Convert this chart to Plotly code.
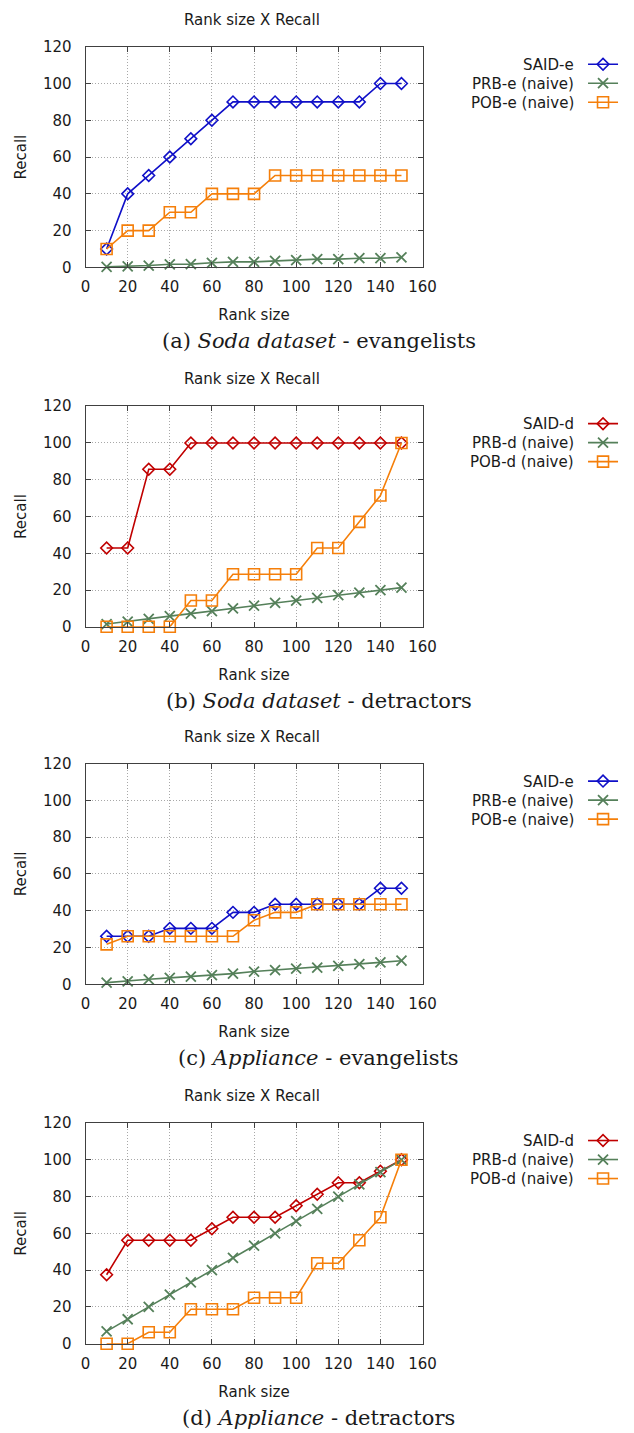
import plotly.graph_objects as go

W, H = 634, 1433
# empirical mapping between reference pixel positions and page positions
SX, BX = 0.973, 3.2
SY, BY = 0.989, 7.2

rank = [10, 20, 30, 40, 50, 60, 70, 80, 90, 100, 110, 120, 130, 140, 150]

# (a) Soda dataset - evangelists
a_said = [10, 40, 50, 60, 70, 80, 90, 90, 90, 90, 90, 90, 90, 100, 100]
a_prb = [0.3, 0.5, 1.0, 1.7, 1.8, 2.5, 3.0, 3.0, 3.5, 4.0, 4.5, 4.5, 5.0, 5.0, 5.5]
a_pob = [10, 20, 20, 30, 30, 40, 40, 40, 50, 50, 50, 50, 50, 50, 50]

# (b) Soda dataset - detractors
b_said = [42.9, 42.9, 85.7, 85.7, 100, 100, 100, 100, 100, 100, 100, 100, 100, 100, 100]
b_prb = [1.5, 2.8, 4.3, 5.8, 7.2, 8.5, 10.0, 11.5, 13.0, 14.2, 15.7, 17.2, 18.6, 20.0, 21.3]
b_pob = [0, 0, 0, 0, 14.3, 14.3, 28.6, 28.6, 28.6, 28.6, 42.9, 42.9, 57.1, 71.4, 100]

# (c) Appliance - evangelists
c_said = [26.1, 26.1, 26.1, 30.4, 30.4, 30.4, 39.1, 39.1, 43.5, 43.5, 43.5, 43.5, 43.5, 52.2, 52.2]
c_prb = [0.9, 1.6, 2.7, 3.5, 4.2, 5.0, 5.8, 6.9, 7.7, 8.5, 9.1, 10.0, 11.0, 11.9, 12.8]
c_pob = [21.7, 26.1, 26.1, 26.1, 26.1, 26.1, 26.1, 34.8, 39.1, 39.1, 43.5, 43.5, 43.5, 43.5, 43.5]

# (d) Appliance - detractors
d_said = [37.5, 56.25, 56.25, 56.25, 56.25, 62.5, 68.75, 68.75, 68.75, 75.0, 81.25, 87.5, 87.5, 93.75, 100]
d_prb = [6.7, 13.3, 20.0, 26.7, 33.3, 40.0, 46.7, 53.3, 60.0, 66.7, 73.3, 80.0, 86.7, 93.3, 100]
d_pob = [0, 0, 6.25, 6.25, 18.75, 18.75, 18.75, 25.0, 25.0, 25.0, 43.75, 43.75, 56.25, 68.75, 100]

x_ticks = [0, 20, 40, 60, 80, 100, 120, 140, 160]
y_ticks = [0, 20, 40, 60, 80, 100, 120]

panels = [
    ("e", a_said, a_prb, a_pob, "(a) <i>Soda dataset</i> - evangelists"),
    ("d", b_said, b_prb, b_pob, "(b) <i>Soda dataset</i> - detractors"),
    ("e", c_said, c_prb, c_pob, "(c) <i>Appliance</i> - evangelists"),
    ("d", d_said, d_prb, d_pob, "(d) <i>Appliance</i> - detractors"),
]

BLUE = "#1010c8"
RED = "#c00000"
GREEN = "#55805a"
ORANGE = "#f57f0a"

tops = [45, 405, 763, 1123]
plot_h = 221
x_left, x_right = 84, 422
LEG_ROW = 19  # legend row height (px) for the small legend font


def px_x(p):
    return ((p - BX) / SX) / W


def px_y(p):
    return 1 - ((p - BY) / SY) / H


fig = go.Figure()
annotations = []
layout = {}
SANS = "DejaVu Sans"
TXT = "#1a1a1a"

for i, (kind, said, prb, pob, caption) in enumerate(panels):
    n = i + 1
    xa = "x" if n == 1 else f"x{n}"
    ya = "y" if n == 1 else f"y{n}"
    leg = "legend" if n == 1 else f"legend{n}"
    said_color = BLUE if kind == "e" else RED
    names = [f"SAID-{kind}", f"PRB-{kind} (naive)", f"POB-{kind} (naive)"]
    fig.add_trace(go.Scatter(
        x=rank, y=said, name=" ", hovertext=names[0], xaxis=xa, yaxis=ya, legend=leg,
        mode="lines+markers", cliponaxis=False,
        line=dict(color=said_color, width=1.6),
        marker=dict(symbol="diamond-open", size=9, color=said_color, line=dict(width=1.6))))
    fig.add_trace(go.Scatter(
        x=rank, y=prb, name=" ", hovertext=names[1], xaxis=xa, yaxis=ya, legend=leg,
        mode="lines+markers", cliponaxis=False,
        line=dict(color=GREEN, width=1.6),
        marker=dict(symbol="x-thin-open", size=10, color=GREEN, line=dict(width=1.8, color=GREEN))))
    fig.add_trace(go.Scatter(
        x=rank, y=pob, name=" ", hovertext=names[2], xaxis=xa, yaxis=ya, legend=leg,
        mode="lines+markers", cliponaxis=False,
        line=dict(color=ORANGE, width=1.6),
        marker=dict(symbol="square-open", size=11, color=ORANGE, line=dict(width=1.6))))

    top = tops[i]
    bot = top + plot_h
    axis_common = dict(
        showline=True, linecolor="#404040", linewidth=1, mirror="ticks",
        ticks="inside", ticklen=5, tickcolor="#404040",
        showgrid=True, gridcolor="#a8a8a8", griddash="1px,2px", gridwidth=1,
        zeroline=False, tickfont=dict(family=SANS, size=15, color=TXT),
    )
    layout["xaxis" if n == 1 else f"xaxis{n}"] = dict(
        axis_common, domain=[px_x(x_left), px_x(x_right)], anchor=ya,
        range=[0, 160], tickvals=x_ticks, ticktext=[str(v) for v in x_ticks],
        ticklabelstandoff=6,
        title=dict(text="Rank size", font=dict(family=SANS, size=15, color=TXT), standoff=14),
    )
    layout["yaxis" if n == 1 else f"yaxis{n}"] = dict(
        axis_common, domain=[px_y(bot), px_y(top)], anchor=xa,
        range=[0, 120], tickvals=y_ticks, ticktext=[str(v) for v in y_ticks],
        ticklabelstandoff=10,
        title=dict(text="Recall", font=dict(family=SANS, size=15, color=TXT), standoff=12),
    )
    layout[leg] = dict(
        x=px_x(583), y=px_y(top + 3), xanchor="left", yanchor="top",
        bgcolor="rgba(0,0,0,0)", font=dict(family=SANS, size=10, color=TXT),
        itemwidth=30, tracegroupgap=0,
    )
    for k, nm in enumerate(names):
        annotations.append(dict(
            text=nm, x=px_x(576), y=px_y(top + 18 + k * LEG_ROW), xref="paper", yref="paper",
            showarrow=False, xanchor="right", yanchor="middle",
            font=dict(family=SANS, size=15, color=TXT)))
    annotations.append(dict(
        text="Rank size X Recall", x=px_x(251), y=px_y(top - 27), xref="paper", yref="paper",
        showarrow=False, xanchor="center", yanchor="middle",
        font=dict(family=SANS, size=15, color=TXT)))
    annotations.append(dict(
        text=caption, x=px_x(318), y=px_y(top + 295), xref="paper", yref="paper",
        showarrow=False, xanchor="center", yanchor="middle",
        font=dict(family="DejaVu Serif", size=21, color=TXT)))

fig.update_layout(
    width=W, height=H, margin=dict(l=0, r=0, t=0, b=0),
    paper_bgcolor="white", plot_bgcolor="white",
    showlegend=True, annotations=annotations, **layout,
)

fig.write_html(
    "out.html",
    config={"displayModeBar": False},
    post_script="document.body.style.margin='0';document.body.style.padding='0';"
                "document.documentElement.style.overflow='hidden';",
)
